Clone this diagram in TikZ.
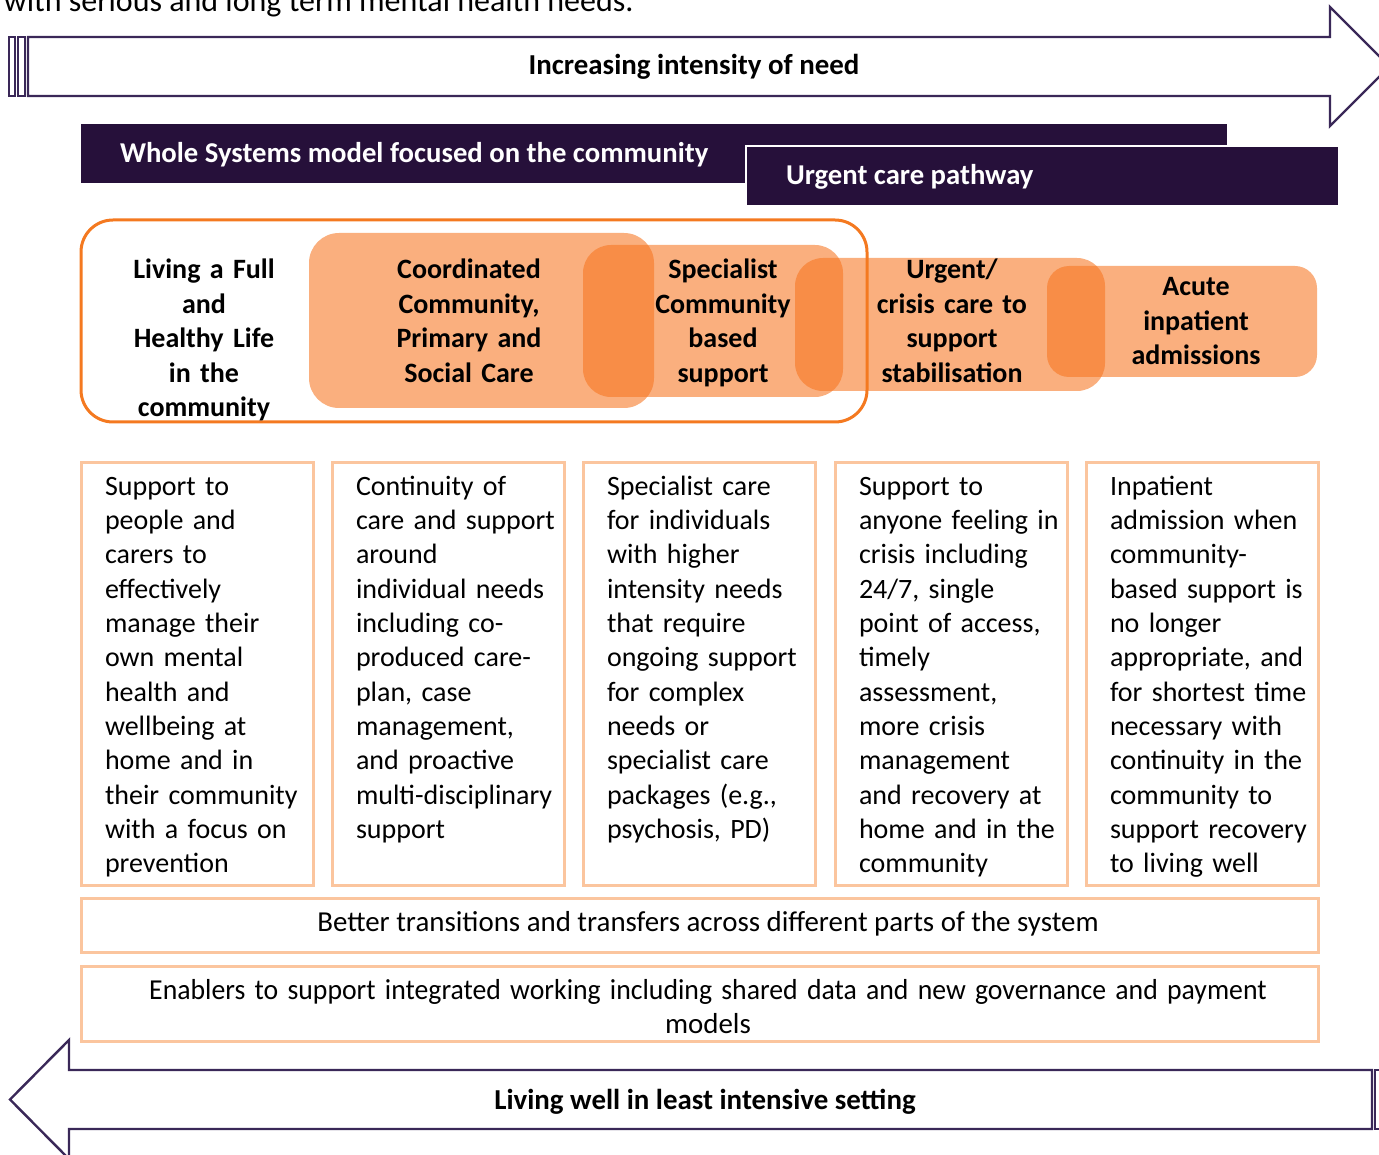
\documentclass[tikz,border=0pt]{standalone}
\usepackage{fontspec}
\usepackage{graphicx}
\setmainfont{Carlito}
\definecolor{bannerpurple}{RGB}{38,16,58}
\definecolor{arrowline}{RGB}{58,40,88}
\definecolor{orline}{RGB}{244,121,32}
\definecolor{orfill}{RGB}{246,117,32}
\definecolor{paleline}{RGB}{251,197,158}
\begin{document}
\begin{tikzpicture}[x=1pt,y=-1pt,
  every node/.style={inner sep=0pt, outer sep=0pt},
  bodytxt/.style={font=\fontsize{28}{34.35}\selectfont, text=black},
  widetxt/.style={font=\fontsize{28.9}{34.35}\selectfont, text=black},
  toptxt/.style={font=\fontsize{32}{38}\selectfont, text=black},
  boldtxt/.style={font=\fontsize{28}{34.35}\selectfont\bfseries, text=black},
  arrtxt/.style={font=\fontsize{28.9}{34.35}\selectfont\bfseries, text=black},
  bantxt/.style={font=\fontsize{28.7}{34.35}\selectfont\bfseries, text=white},
  arrowshape/.style={draw=arrowline, line width=2.4pt, fill=white, line join=miter},
  banner/.style={fill=bannerpurple},
  stagefill/.style={fill=orfill, fill opacity=0.58},
  descbox/.style={draw=paleline, line width=3pt},
  desctxt/.style={bodytxt, anchor=base west, text width=230pt, align=left},
  stagetxt/.style={boldtxt, anchor=base, text width=300pt, align=center}]
\useasboundingbox (0,0) rectangle (1379,1155);

% cut-off line of text at the very top
\node[toptxt, anchor=base west] (toptext) at (4,12) {with serious and long term mental health needs.};

% top arrow
\draw[arrowshape] (9,37) rectangle (15,96);
\draw[arrowshape] (18,37) rectangle (25,96);
\draw[arrowshape] (28,37) -- (1330,37) -- (1330,7) -- (1389.5,66.5) -- (1330,126) -- (1330,96) -- (28,96) -- cycle;
\node[arrtxt, anchor=base] (need) at (694,75) {Increasing intensity of need};

% banners
\fill[banner] (81,124) rectangle (1227,183);
\draw[banner, draw=white, line width=1.5pt] (746,146) rectangle (1339,206);
\node[bantxt, anchor=base west] (whole) at (120,163) {Whole Systems model focused on the community};
\node[bantxt, anchor=base west] (urgent) at (786,185) {Urgent care pathway};

% stage boxes
\fill[stagefill, rounded corners=30pt] (309,233) rectangle (654,408);
\fill[stagefill, rounded corners=28pt] (583,245) rectangle (843,397);
\fill[stagefill, rounded corners=28pt] (795,258) rectangle (1105,391);
\fill[stagefill, rounded corners=22pt] (1047,266) rectangle (1317,377);
\draw[draw=orline, line width=3pt, rounded corners=32pt] (81,220) rectangle (867,422);

\node[stagetxt] (s1) at (204,279) {Living a Full\\and\\Healthy Life\\in the\\community};
\node[stagetxt] (s2) at (469,279) {Coordinated\\Community,\\Primary and\\Social Care};
\node[stagetxt] (s3) at (723,279) {Specialist\\Community\\based\\support};
\node[stagetxt] (s4) at (952,279) {Urgent/\\crisis care to\\support\\stabilisation};
\node[stagetxt] (s5) at (1196,296) {Acute\\inpatient\\admissions};

% description boxes
\draw[descbox] (81,462) rectangle (313,885);
\draw[descbox] (332,462) rectangle (564,885);
\draw[descbox] (583,462) rectangle (815,885);
\draw[descbox] (835,462) rectangle (1067,885);
\draw[descbox] (1086,462) rectangle (1318,885);

\node[desctxt] (d1) at (105,495) {Support to\\people and\\carers to\\effectively\\manage their\\own mental\\health and\\wellbeing at\\home and in\\their community\\with a focus on\\prevention};
\node[desctxt] (d2) at (356,495) {Continuity of\\care and support\\around\\individual needs\\including co-\\produced care-\\plan, case\\management,\\and proactive\\multi-disciplinary\\support};
\node[desctxt] (d3) at (607,495) {Specialist care\\for individuals\\with higher\\intensity needs\\that require\\ongoing support\\for complex\\needs or\\specialist care\\packages (e.g.,\\psychosis, PD)};
\node[desctxt] (d4) at (859,495) {Support to\\anyone feeling in\\crisis including\\24/7, single\\point of access,\\timely\\assessment,\\more crisis\\management\\and recovery at\\home and in the\\community};
\node[desctxt] (d5) at (1110,495) {Inpatient\\admission when\\community-\\based support is\\no longer\\appropriate, and\\for shortest time\\necessary with\\continuity in the\\community to\\support recovery\\to living well};

% bottom boxes
\draw[descbox] (81,898) rectangle (1318,952);
\node[widetxt, anchor=base] (trans) at (708,931) {Better transitions and transfers across different parts of the system};
\draw[descbox] (81,966) rectangle (1318,1041);
\node[widetxt, anchor=base, text width=1200pt, align=center] (enab) at (708,999) {\scalebox{0.96}[1]{Enablers to support integrated working including shared data and new governance and payment}\\models};

% bottom arrow
\draw[arrowshape] (1372,1070) -- (69,1070) -- (69,1040) -- (10,1099.5) -- (69,1159) -- (69,1129) -- (1372,1129) -- cycle;
\draw[arrowshape] (1375,1070) rectangle (1382,1129);
\node[arrtxt, anchor=base] (well) at (705,1109) {Living well in least intensive setting};
\end{tikzpicture}
\end{document}
